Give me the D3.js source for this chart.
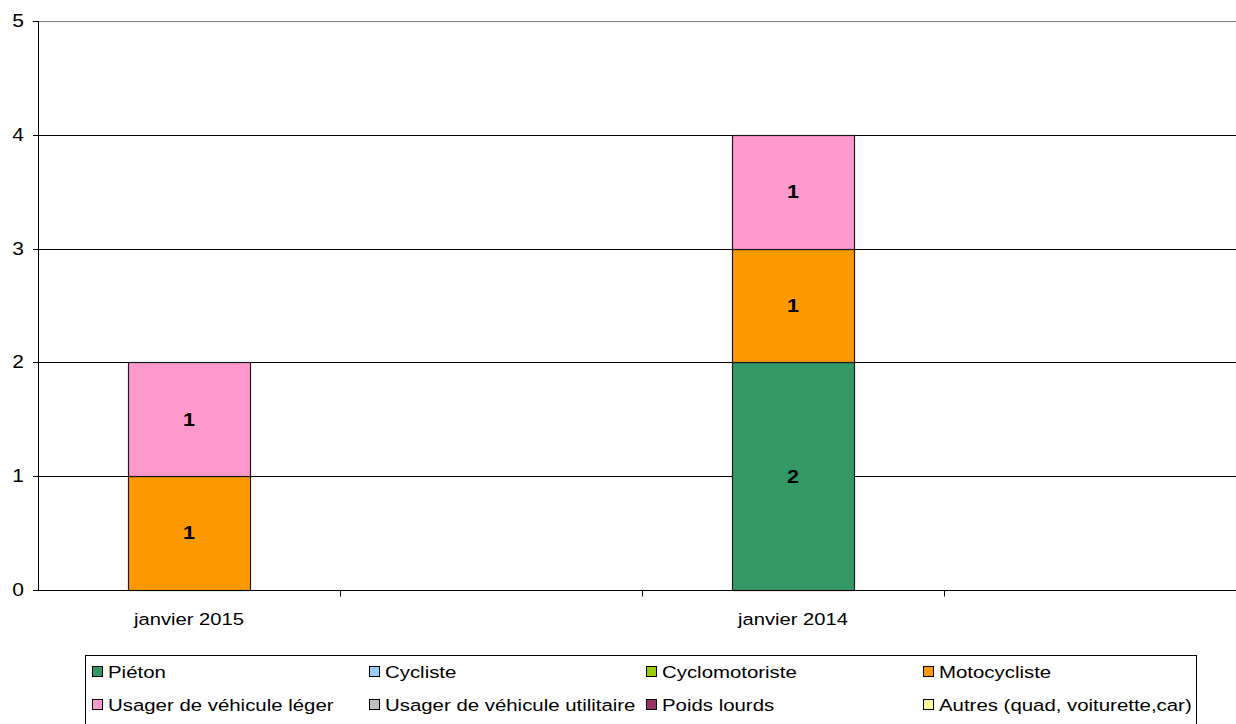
<!DOCTYPE html>
<html>
<head>
<meta charset="utf-8">
<script src="https://cdnjs.cloudflare.com/ajax/libs/d3/7.8.5/d3.min.js"></script>
<style>
  body { margin: 0; background: #fff; }
  text { font-family: "Liberation Sans", Arial, sans-serif; }
</style>
</head>
<body>
<script>
"use strict"

// categories (only two of them carry a label)
var categories = ["janvier 2015", "", "janvier 2014", ""];

var seriesNames = ["Piéton", "Cycliste", "Cyclomotoriste", "Motocycliste",
                   "Usager de véhicule léger", "Usager de véhicule utilitaire",
                   "Poids lourds", "Autres (quad, voiturette,car)"];
var seriesColors = ["#339966", "#99ccff", "#99cc00", "#ff9900",
                    "#ff99cc", "#c0c0c0", "#993366", "#ffff99"];

var pieton        = [0, 0, 2, 0];
var cycliste      = [0, 0, 0, 0];
var cyclomoto     = [0, 0, 0, 0];
var motocycliste  = [1, 0, 1, 0];
var vehLeger      = [1, 0, 1, 0];
var vehUtilitaire = [0, 0, 0, 0];
var poidsLourds   = [0, 0, 0, 0];
var autres        = [0, 0, 0, 0];

var yTicks = [0, 1, 2, 3, 4, 5];

var seriesValues = [pieton, cycliste, cyclomoto, motocycliste,
                    vehLeger, vehUtilitaire, poidsLourds, autres];

var width = 1236, height = 724;
var sx = 1.2;   // the original text is stretched horizontally

//Make an SVG Container
var svg = d3.select("body").append("svg")
            .attr("width", width)
            .attr("height", height);

var x = d3.scaleBand()
          .domain(d3.range(categories.length))
          .range([38, 1246]);

var y = d3.scaleLinear()
          .domain([0, 5])
          .range([590, 21]);

function label(parent, px, py, str, anchor, size, bold) {
    return parent.append("text")
       .attr("transform", "translate(" + px + "," + py + ") scale(" + sx + ",1)")
       .attr("text-anchor", anchor)
       .attr("dominant-baseline", "central")
       .attr("font-size", size)
       .attr("font-weight", bold ? "bold" : "normal")
       .attr("fill", "#000")
       .text(str);
}

// gridlines
svg.append("g").selectAll("line")
   .data(yTicks.slice(1))
   .enter().append("line")
   .attr("x1", 38).attr("x2", width)
   .attr("y1", function(d) { return Math.round(y(d)) + 0.5; })
   .attr("y2", function(d) { return Math.round(y(d)) + 0.5; })
   .attr("stroke", function(d) { return d == 5 ? "#808080" : "#000"; })
   .attr("stroke-width", 1);

// stacked bars
var rows = categories.map(function(c, i) {
    var r = {idx: i};
    seriesNames.forEach(function(s, j) { r[s] = seriesValues[j][i]; });
    return r;
});
var stack = d3.stack().keys(seriesNames)(rows);

var barW = 122;
stack.forEach(function(layer, j) {
    layer.forEach(function(d) {
        if (d[1] - d[0] <= 0) return;
        var cx = x(d.data.idx) + x.bandwidth() / 2;
        svg.append("rect")
           .attr("x", Math.round(cx - barW / 2) + 0.5)
           .attr("y", Math.round(y(d[1])) + 0.5)
           .attr("width", barW)
           .attr("height", Math.round(y(d[0])) - Math.round(y(d[1])))
           .attr("fill", seriesColors[j])
           .attr("stroke", "#1a1a1a")
           .attr("stroke-width", 1.2);
        label(svg, cx, (y(d[0]) + y(d[1])) / 2, d[1] - d[0], "middle", 18, true);
    });
});

// y axis
var gy = svg.append("g");
gy.append("line").attr("x1", 38.5).attr("x2", 38.5)
  .attr("y1", y(5)).attr("y2", y(0) + 0.5).attr("stroke", "#000");
yTicks.forEach(function(t) {
    var py = Math.round(y(t)) + 0.5;
    gy.append("line").attr("x1", 33).attr("x2", 38.5)
      .attr("y1", py).attr("y2", py).attr("stroke", "#000");
    label(gy, 24, py, d3.format("d")(t), "end", 17.5, false);
});

// x axis
var gx = svg.append("g").attr("transform", "translate(0,590.5)");
gx.append("line").attr("x1", 38).attr("x2", width).attr("stroke", "#000");
gx.selectAll(".tk")
  .data(d3.range(1, categories.length))
  .enter().append("line")
  .attr("class", "tk")
  .attr("x1", function(i) { return Math.round(x(i)) + 0.5; })
  .attr("x2", function(i) { return Math.round(x(i)) + 0.5; })
  .attr("y1", 0).attr("y2", 6)
  .attr("stroke", "#000");
d3.range(categories.length).forEach(function(i) {
    label(gx, x(i) + x.bandwidth() / 2, 29, categories[i], "middle", 16.8, false);
});

// legend
var lg = svg.append("g");
lg.append("rect")
  .attr("x", 85.5).attr("y", 655.5)
  .attr("width", 1111).attr("height", 90)
  .attr("fill", "#fff").attr("stroke", "#000");

var colX = [92, 369, 646, 923];
var rowY = [672, 705];
seriesNames.forEach(function(s, j) {
    var cx = colX[j % 4], cy = rowY[Math.floor(j / 4)];
    lg.append("rect")
      .attr("x", cx + 0.5).attr("y", cy - 5.5)
      .attr("width", 10).attr("height", 10)
      .attr("fill", seriesColors[j])
      .attr("stroke", "#000");
    label(lg, cx + 16, cy, s, "start", 17, false);
});
</script>
</body>
</html>
